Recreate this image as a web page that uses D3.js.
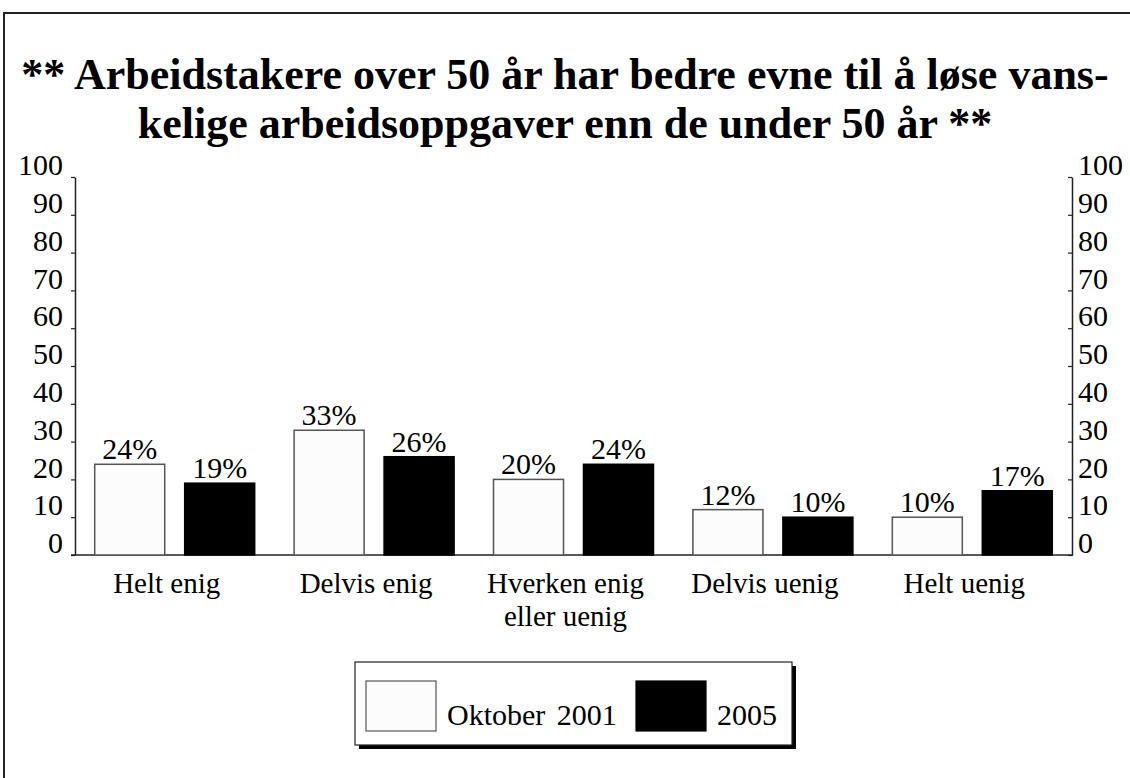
<!DOCTYPE html>
<html>
<head>
<meta charset="utf-8">
<script src="https://cdn.jsdelivr.net/npm/d3@7"></script>
<style>
  body { margin: 0; background: #fff; }
  svg text { font-family: "Liberation Serif", "Times New Roman", Times, "DejaVu Serif", serif; }
</style>
</head>
<body>
<div id="chart"></div>
<script>
// ----------------------------------
// DATA
// ----------------------------------
const titleLines = [
  '** Arbeidstakere over 50 år har bedre evne til å løse vans-',
  'kelige arbeidsoppgaver enn de under 50 år **'
];
const categories = ['Helt enig', 'Delvis enig', 'Hverken enig|eller uenig', 'Delvis uenig', 'Helt uenig'];
const seriesNames = ['Oktober 2001', '2005'];
const values2001 = [24, 33, 20, 12, 10];
const values2005 = [19, 26, 24, 10, 17];
const yTicks = [0, 10, 20, 30, 40, 50, 60, 70, 80, 90, 100];

const seriesColors = ['#fcfcfc', '#000'];
const seriesStroke = ['#555', '#000'];
const serif = '"Liberation Serif", "Times New Roman", Times, "DejaVu Serif", serif';

// ----------------------------------
// SETUP
// ----------------------------------
const width = 1130, height = 778;
const margin = {top: 177, right: 58, bottom: 223, left: 75};
const innerWidth = width - margin.left - margin.right,
      innerHeight = height - margin.top - margin.bottom;

const svg = d3.select('#chart').append('svg')
  .attr('width', width)
  .attr('height', height)
  .attr('font-family', serif);

// outer frame: only top and left edges are inside the picture
svg.append('path')
  .attr('d', `M4,${height} V13 H${width}`)
  .attr('fill', 'none')
  .attr('stroke', '#222')
  .attr('stroke-width', 2);

// title
svg.append('g')
  .selectAll('text')
  .data(titleLines)
  .join('text')
  .attr('x', width / 2)
  .attr('y', (d, i) => 89 + i * 49)
  .attr('text-anchor', 'middle')
  .attr('font-family', serif)
  .style('font-size', '44px')
  .style('font-weight', 'bold')
  .text(d => d);

// ----------------------------------
// SCALES
// ----------------------------------
const x0 = d3.scaleBand()
  .domain(categories)
  .range([0, innerWidth]);

const x1 = d3.scaleBand()
  .domain(seriesNames)
  .range([0, x0.bandwidth()])
  .paddingInner(0.222)
  .paddingOuter(0.219)
  .align(0.5);

const y = d3.scaleLinear()
  .domain([0, 100])
  .range([innerHeight, 0]);

const g = svg.append('g')
  .attr('transform', `translate(${margin.left}, ${margin.top})`);

// ----------------------------------
// AXES
// ----------------------------------
const yLeft = g.append('g')
  .call(d3.axisLeft(y).tickValues(yTicks).tickSize(4).tickPadding(8).tickSizeOuter(0));

const yRight = g.append('g')
  .attr('transform', `translate(${innerWidth}, 0)`)
  .call(d3.axisRight(y).tickValues(yTicks).tickSizeInner(-4).tickPadding(6).tickSizeOuter(0));

[yLeft, yRight].forEach(ax => {
  ax.attr('font-family', serif).attr('font-size', 30);
  ax.select('.domain').attr('stroke', '#222').attr('stroke-width', 1.5);
  ax.selectAll('.tick line').attr('stroke', '#222').attr('stroke-width', 1.2);
  ax.selectAll('.tick text')
    .attr('dy', '-0.08em')
    .attr('fill', '#000')
    .attr('font-family', serif)
    .style('font-size', '30px');
});

// baseline
g.append('line')
  .attr('x1', -4).attr('x2', innerWidth + 1)
  .attr('y1', y(0)).attr('y2', y(0))
  .attr('stroke', '#222')
  .attr('stroke-width', 1.5);

// ----------------------------------
// BARS
// ----------------------------------
const rows = categories.map((c, i) => ({
  category: c,
  vals: [values2001[i], values2005[i]]
}));

const groups = g.selectAll('.group')
  .data(rows)
  .join('g')
  .attr('class', 'group')
  .attr('transform', d => `translate(${x0(d.category)}, 0)`);

groups.selectAll('rect')
  .data(d => d.vals.map((v, j) => ({key: seriesNames[j], value: v, j})))
  .join('rect')
  .attr('x', d => x1(d.key))
  .attr('y', d => y(d.value))
  .attr('width', x1.bandwidth())
  .attr('height', d => y(0) - y(d.value))
  .attr('fill', d => seriesColors[d.j])
  .attr('stroke', d => seriesStroke[d.j])
  .attr('stroke-width', 1.5);

groups.selectAll('.val')
  .data(d => d.vals.map((v, j) => ({key: seriesNames[j], value: v})))
  .join('text')
  .attr('class', 'val')
  .attr('x', d => x1(d.key) + x1.bandwidth() / 2)
  .attr('y', d => y(d.value) - 5)
  .attr('text-anchor', 'middle')
  .attr('font-family', serif)
  .style('font-size', '30px')
  .text(d => d.value + '%');

// category labels
groups.append('text')
  .attr('text-anchor', 'middle')
  .attr('y', innerHeight + 38)
  .attr('font-family', serif)
  .style('font-size', '29px')
  .selectAll('tspan')
  .data(d => d.category.split('|'))
  .join('tspan')
  .attr('x', x0.bandwidth() / 2 - 8)
  .attr('dy', (d, i) => i === 0 ? 0 : 33)
  .text(d => d);

// ----------------------------------
// LEGEND
// ----------------------------------
const legend = svg.append('g')
  .attr('transform', 'translate(355, 662)');

legend.append('rect')
  .attr('x', 4).attr('y', 4)
  .attr('width', 437).attr('height', 83)
  .attr('fill', '#000');

legend.append('rect')
  .attr('width', 437).attr('height', 83)
  .attr('fill', '#fff')
  .attr('stroke', '#222')
  .attr('stroke-width', 1.2);

const legendX = [11, 281];
const textX = [92, 362];

seriesNames.forEach((name, i) => {
  legend.append('rect')
    .attr('x', legendX[i]).attr('y', 19)
    .attr('width', 70).attr('height', 50)
    .attr('fill', seriesColors[i])
    .attr('stroke', seriesStroke[i])
    .attr('stroke-width', 1.2);
  legend.append('text')
    .attr('x', textX[i]).attr('y', 63)
    .attr('font-family', serif)
    .style('font-size', '30px')
    .style('word-spacing', '4px')
    .text(name);
});
</script>
</body>
</html>
